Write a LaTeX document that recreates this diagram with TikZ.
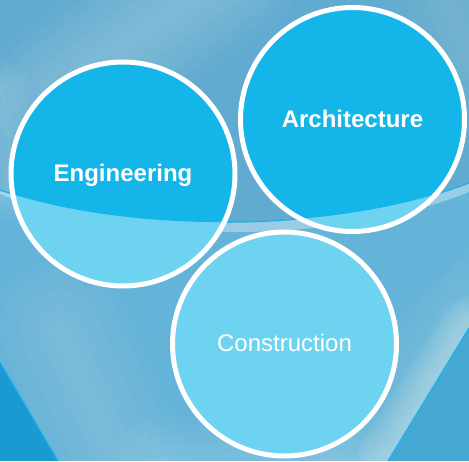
\documentclass[tikz,border=0pt]{standalone}
\usepackage{fontspec}
\setmainfont{Liberation Sans}
\definecolor{bgbase}{HTML}{64B3D8}
\definecolor{cirtop}{HTML}{14B5E9}
\definecolor{cirlow}{HTML}{6ED3F1}
\definecolor{wedge}{HTML}{1A9AD0}
\definecolor{wedgeR}{HTML}{45A8D3}
\definecolor{edgeline}{HTML}{1DB2EC}
\begin{document}
\begin{tikzpicture}[x=1pt,y=-1pt,
  ring/.style={circle, draw=white, line width=5pt, fill=cirlow,
    minimum size=224pt, inner sep=0pt, text=white,
    font=\fontsize{24}{28}\selectfont, text height=17pt, text depth=2pt,
    path picture={\fill[cirtop] (k5) -- (k0) .. controls (k1) and (k2) .. (k3) -- (k4) -- cycle;}},
  lbl/.style={font=\bfseries\fontsize{24}{28}\selectfont},
  glow/.style={white, draw opacity=#1, line cap=round}
]
\useasboundingbox (0,0) rectangle (469,461);
% curve control coordinates
\coordinate (k0) at (0,190);
\coordinate (k1) at (120,232);
\coordinate (k2) at (330,236);
\coordinate (k3) at (469,183);
\coordinate (k4) at (469,0);
\coordinate (k5) at (0,0);
% background
\fill[bgbase] (0,0) rectangle (469,461);
\begin{scope}
\clip (0,0) rectangle (469,461);
% soft light streaks
\foreach \w in {20,40,...,140} \draw[glow=0.035, line width=\w pt] (230,-30) -- (60,90);
\foreach \w in {10,20,...,60} \draw[glow=0.03, line width=\w pt] (0,90) -- (10,190);
\foreach \w in {20,40,...,120} \draw[glow=0.025, line width=\w pt] (440,-20) -- (469,60);
\foreach \w in {20,40,...,140} \draw[glow=0.025, line width=\w pt] (60,330) -- (120,470);
\foreach \w in {20,40,...,120} \draw[glow=0.03, line width=\w pt] (170,475) -- (330,470);
\end{scope}
\begin{scope}
\clip (469,250) -- (469,328) -- (388,461) -- (250,461) -- cycle;
\foreach \w in {8,16,...,64} \draw[glow=0.05, line width=\w pt] (469,328) -- (388,461);
\foreach \w in {20,40,...,120} \draw[glow=0.02, line width=\w pt] (469,300) -- (360,461);
\end{scope}
% darker zone above the curve
\fill[black, fill opacity=0.04] (k5) -- (k0) .. controls (k1) and (k2) .. (k3) -- (k4) -- cycle;
% light band under the curve
\fill[white, fill opacity=0.35] (k0) .. controls (k1) and (k2) .. (k3) -- (469,192) .. controls (330,248) and (120,242) .. (0,194) -- cycle;
\draw[edgeline, line width=1.3pt] (k0) .. controls (k1) and (k2) .. (k3);
% corner wedges
\fill[wedge] (0,362) -- (58,461) -- (0,461) -- cycle;
\draw[edgeline, line width=1.2pt] (0,362) -- (58,461);
\fill[wedgeR] (469,328) -- (388,461) -- (469,461) -- cycle;
\draw[edgeline, line width=1.2pt] (469,328) -- (388,461);
% circles
\node[ring, lbl] (eng) at (123,174) {Engineering};
\node[ring, lbl] (arc) at (352.5,119.5) {Architecture};
\node[ring] (con) at (284.5,344) {Construction};
\end{tikzpicture}
\end{document}
